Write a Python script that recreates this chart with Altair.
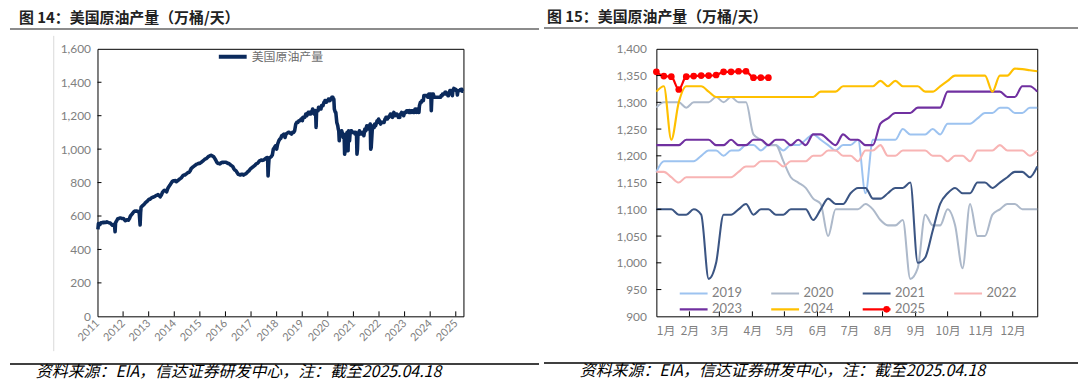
import altair as alt
import pandas as pd

# ---------------- data ----------------
# Left panel (2011-2018) (万桶/天)
early_dates = [
    "2011-01-07", "2011-01-14", "2011-02-04", "2011-02-18", "2011-03-04", "2011-03-18", "2011-04-01", "2011-04-15",
    "2011-05-01", "2011-05-15", "2011-06-01", "2011-06-15", "2011-07-01", "2011-07-15", "2011-08-01", "2011-08-15",
    "2011-09-02", "2011-09-09", "2011-09-16", "2011-09-30", "2011-10-15", "2011-11-01", "2011-11-15", "2011-12-01",
    "2011-12-15",
    "2012-01-06", "2012-01-20", "2012-02-03", "2012-02-17", "2012-03-02", "2012-03-16", "2012-04-01", "2012-04-15",
    "2012-05-01", "2012-05-15", "2012-06-01", "2012-06-15", "2012-07-01", "2012-07-15", "2012-08-03", "2012-08-17",
    "2012-08-31", "2012-09-07", "2012-09-14", "2012-10-01", "2012-10-15", "2012-11-01", "2012-11-15", "2012-12-01",
    "2012-12-15",
    "2013-01-04", "2013-01-18", "2013-02-01", "2013-02-15", "2013-03-01", "2013-03-15", "2013-04-01", "2013-04-15",
    "2013-05-01", "2013-05-15", "2013-06-01", "2013-06-15", "2013-07-01", "2013-07-15", "2013-08-01", "2013-08-15",
    "2013-09-01", "2013-09-15", "2013-10-01", "2013-10-15", "2013-11-01", "2013-11-15", "2013-12-01", "2013-12-15",
    "2014-01-03", "2014-01-17", "2014-02-01", "2014-02-15", "2014-03-01", "2014-03-15", "2014-04-01", "2014-04-15",
    "2014-05-01", "2014-05-15", "2014-06-01", "2014-06-15", "2014-07-01", "2014-07-15", "2014-08-01", "2014-08-15",
    "2014-09-01", "2014-09-15", "2014-10-01", "2014-10-15", "2014-11-01", "2014-11-15", "2014-12-01", "2014-12-15",
    "2015-01-01", "2015-01-15", "2015-02-01", "2015-02-15", "2015-03-01", "2015-03-15", "2015-04-01", "2015-04-15",
    "2015-05-01", "2015-05-15", "2015-06-01", "2015-06-15", "2015-07-01", "2015-07-15", "2015-08-01", "2015-08-15",
    "2015-09-01", "2015-09-15", "2015-10-01", "2015-10-15", "2015-11-01", "2015-11-15", "2015-12-01", "2015-12-15",
    "2016-01-01", "2016-01-15", "2016-02-01", "2016-02-15", "2016-03-01", "2016-03-15", "2016-04-01", "2016-04-15",
    "2016-05-01", "2016-05-15", "2016-06-01", "2016-06-15", "2016-07-01", "2016-07-15", "2016-08-01", "2016-08-15",
    "2016-09-01", "2016-09-15", "2016-10-01", "2016-10-15", "2016-11-01", "2016-11-15", "2016-12-01", "2016-12-15",
    "2017-01-01", "2017-01-15", "2017-02-01", "2017-02-15", "2017-03-01", "2017-03-15", "2017-04-01", "2017-04-15",
    "2017-05-01", "2017-05-15", "2017-06-01", "2017-06-15", "2017-07-01", "2017-07-15", "2017-08-01", "2017-08-18",
    "2017-08-25", "2017-09-01", "2017-09-08", "2017-09-15", "2017-10-01", "2017-10-15", "2017-11-01", "2017-11-15",
    "2017-12-01", "2017-12-15",
    "2018-01-01", "2018-01-15", "2018-02-01", "2018-02-15", "2018-03-01", "2018-03-15", "2018-04-01", "2018-04-15",
    "2018-05-01", "2018-05-15", "2018-06-01", "2018-06-15", "2018-07-01", "2018-07-15", "2018-08-01", "2018-08-15",
    "2018-09-01", "2018-09-15", "2018-10-01", "2018-10-15", "2018-11-01", "2018-11-15", "2018-12-01", "2018-12-15",
]
early_values = [
    520, 555, 548, 560, 560, 562, 560, 563, 562, 565, 562, 560, 558, 552, 545, 548,
    540, 506, 560, 570, 582, 585, 588, 588, 585,
    585, 578, 572, 575, 578, 575, 585, 600, 608, 615, 625, 630, 628, 630, 625, 628,
    546, 620, 652, 660, 665, 672, 680, 685, 690,
    700, 700, 705, 710, 712, 715, 718, 722, 725, 728, 722, 715, 725, 740, 750, 754,
    750, 745, 765, 775, 785, 795, 805, 810,
    810, 812, 805, 810, 815, 820, 825, 830, 840, 845, 845, 850, 855, 860, 862, 870,
    885, 890, 895, 900, 905, 910, 912, 915,
    915, 920, 925, 930, 935, 940, 943, 948, 955, 958, 962, 963, 958, 955, 945, 935,
    920, 915, 915, 912, 918, 922, 920, 922,
    922, 920, 915, 915, 910, 905, 900, 895, 882, 875, 870, 860, 850, 848, 845, 850,
    850, 845, 850, 852, 858, 865, 870, 878,
    885, 890, 895, 900, 905, 912, 915, 920, 930, 932, 935, 933, 935, 940, 945, 950,
    950, 840, 900, 945, 950, 955, 965, 1000, 1010, 1020,
    1000, 1030, 1050, 1060, 1065, 1080, 1085, 1090, 1070, 1090, 1095, 1100, 1100, 1095, 1090, 1100,
    1100, 1110, 1150, 1160, 1160, 1170, 1170, 1180,
]

# Weekly values 2019-2025 (万桶/天)
years = ["2019", "2020", "2021", "2022", "2023", "2024", "2025"]
w2019 = [1170, 1190, 1190, 1190, 1190, 1190, 1200, 1210, 1210, 1200, 1210, 1210, 1220, 1220, 1210, 1220,
         1220, 1210, 1220, 1220, 1230, 1240, 1230, 1220, 1210, 1220, 1220, 1230, 1130, 1230, 1230, 1230,
         1230, 1250, 1240, 1240, 1240, 1250, 1240, 1260, 1260, 1260, 1260, 1270, 1280, 1280, 1290, 1290,
         1280, 1280, 1290, 1290]
w2020 = [1290, 1300, 1300, 1300, 1290, 1300, 1300, 1300, 1310, 1300, 1310, 1300, 1300, 1240, 1230, 1220,
         1220, 1190, 1160, 1150, 1140, 1120, 1110, 1050, 1100, 1100, 1100, 1100, 1110, 1100, 1080, 1070,
         1070, 1080, 970, 990, 1090, 1070, 1070, 1100, 1070, 990, 1110, 1050, 1050, 1090, 1100, 1110,
         1110, 1100, 1100, 1100]
w2021 = [1100, 1100, 1100, 1090, 1090, 1100, 1090, 970, 1000, 1090, 1090, 1100, 1110, 1090, 1100, 1100,
         1090, 1090, 1100, 1100, 1100, 1080, 1100, 1120, 1110, 1110, 1130, 1140, 1140, 1120, 1120, 1130,
         1140, 1140, 1150, 1000, 1010, 1060, 1110, 1130, 1140, 1130, 1130, 1150, 1150, 1140, 1150, 1160,
         1170, 1170, 1160, 1180]
w2022 = [1170, 1170, 1160, 1150, 1160, 1160, 1160, 1160, 1160, 1160, 1160, 1170, 1180, 1180, 1190, 1190,
         1190, 1180, 1190, 1190, 1190, 1200, 1200, 1210, 1210, 1200, 1200, 1190, 1210, 1210, 1220, 1200,
         1200, 1210, 1210, 1210, 1210, 1200, 1200, 1190, 1200, 1200, 1190, 1210, 1210, 1210, 1220, 1210,
         1210, 1210, 1200, 1210]
w2023 = [1220, 1220, 1220, 1220, 1230, 1230, 1230, 1230, 1220, 1220, 1230, 1220, 1220, 1230, 1230, 1220,
         1230, 1230, 1220, 1230, 1220, 1240, 1240, 1230, 1220, 1240, 1230, 1230, 1220, 1220, 1260, 1270,
         1280, 1280, 1280, 1290, 1290, 1290, 1290, 1320, 1320, 1320, 1320, 1320, 1320, 1320, 1320, 1310,
         1310, 1330, 1330, 1320]
w2024 = [1320, 1330, 1230, 1300, 1330, 1330, 1330, 1320, 1310, 1310, 1310, 1310, 1310, 1310, 1310, 1310,
         1310, 1310, 1310, 1310, 1310, 1310, 1320, 1320, 1320, 1330, 1330, 1330, 1330, 1330, 1340, 1330,
         1340, 1330, 1330, 1330, 1320, 1320, 1330, 1340, 1350, 1350, 1350, 1350, 1350, 1320, 1350, 1350,
         1363, 1362, 1360, 1358]
w2025 = [1357, 1349, 1348, 1324, 1348, 1349, 1350, 1350, 1351, 1357, 1357, 1358, 1358, 1346, 1346, 1346]
weekly = [w2019, w2020, w2021, w2022, w2023, w2024, w2025]

year_colors = ["#9dc3f0", "#adb9ca", "#3b5583", "#f8b4b4", "#7030a0", "#ffc000", "#ff0000"]
year_widths = [2, 2.2, 2.5, 2, 3.5, 3.5, 3]

left_y_ticks = [0, 200, 400, 600, 800, 1000, 1200, 1400, 1600]
left_x_ticks = list(range(2011, 2026))
right_y_ticks = [900, 950, 1000, 1050, 1100, 1150, 1200, 1250, 1300, 1350, 1400]
month_days = [0, 31, 59, 90, 120, 151, 181, 212, 243, 273, 304, 334]
month_labels = ["1月", "2月", "3月", "4月", "5月", "6月", "7月", "8月", "9月", "10月", "11月", "12月"]

title_left = "图 14：美国原油产量（万桶/天）"
title_right = "图 15：美国原油产量（万桶/天）"
source_text = "资料来源：EIA，信达证券研发中心，注：截至2025.04.18"
series_name = "美国原油产量"

# ---------------- tables ----------------
left_rows = [(pd.Timestamp(d), v) for d, v in zip(early_dates, early_values)]
for y, vals in zip(years, weekly):
    start = pd.Timestamp(f"{y}-01-03")
    for i, v in enumerate(vals):
        left_rows.append((start + pd.Timedelta(days=7 * i), v))
left_df = pd.DataFrame(left_rows, columns=["date", "v"])
left_df["t"] = left_df["date"].dt.year + (left_df["date"].dt.dayofyear - 1) / 365.25
left_df["s"] = series_name
left_df = left_df.drop(columns="date")

right_rows = []
for y, vals in zip(years, weekly):
    for i, v in enumerate(vals):
        right_rows.append({"year": y, "day": 7 * i, "v": v})
right_df = pd.DataFrame(right_rows)

dummy = pd.DataFrame({"a": [0]})

# ---------------- left panel ----------------
W1, H1 = 368, 269
xl = alt.X("t:Q", scale=alt.Scale(domain=[2011, 2025.3], nice=False, zero=False),
           axis=alt.Axis(values=left_x_ticks, format="d", labelAngle=-45, labelAlign="right",
                         labelBaseline="middle", labelPadding=5, labelFontSize=11,
                         labelOverlap=False, labelBound=False, title=None))
yl = alt.Y("v:Q", scale=alt.Scale(domain=[0, 1600], nice=False),
           axis=alt.Axis(values=left_y_ticks, format=",.0f", labelPadding=7, labelOverlap=False, title=None))

left_line = alt.Chart(left_df).mark_line(strokeWidth=3.6, strokeJoin="round").encode(
    x=xl, y=yl,
    color=alt.Color("s:N", scale=alt.Scale(domain=[series_name], range=["#0b2a5c"]),
                    legend=alt.Legend(orient="none", legendX=120, legendY=1, title=None,
                                      symbolType="stroke", symbolSize=784, symbolStrokeWidth=4,
                                      clipHeight=14, labelFontSize=12, labelColor="#6e6e6e",
                                      labelFont="Noto Sans CJK SC", labelOffset=3)),
)
lyt = alt.Chart(pd.DataFrame({"v": left_y_ticks[1:-1]})).mark_rule(color="#000", strokeWidth=1).encode(
    y=yl, x=alt.value(0), x2=alt.value(4))
lxt = alt.Chart(pd.DataFrame({"t": left_x_ticks[1:]})).mark_rule(color="#000", strokeWidth=1).encode(
    x=xl, y=alt.value(H1), y2=alt.value(H1 - 5))

left_title = alt.Chart(dummy).mark_text(align="left", baseline="top", fontSize=15, fontWeight="bold",
                                        font="Noto Sans CJK SC", color="#222222").encode(
    x=alt.value(-79), y=alt.value(-38), text=alt.value(title_left))
left_hline = alt.Chart(dummy).mark_rule(color="#8c8c8c", strokeWidth=2).encode(
    x=alt.value(-88), x2=alt.value(444), y=alt.value(-20))
left_border = alt.Chart(dummy).mark_rule(color="#d9d9d9", strokeWidth=1).encode(
    x=alt.value(-44), y=alt.value(-13), y2=alt.value(304))
left_fline = alt.Chart(dummy).mark_rule(color="#000000", strokeWidth=1.5).encode(
    x=alt.value(-88), x2=alt.value(444), y=alt.value(317))
left_src = alt.Chart(dummy).mark_text(align="left", baseline="middle", fontSize=16, fontStyle="italic",
                                      font="Noto Sans CJK SC", color="#000000").encode(
    x=alt.value(-62), y=alt.value(325), text=alt.value(source_text))

left = alt.layer(left_line, lyt, lxt, left_title, left_hline, left_border, left_fline, left_src).properties(
    width=W1, height=H1)

# ---------------- right panel ----------------
W2, H2 = 383, 269
days_arr = "[" + ",".join(str(d) for d in month_days) + "]"
labs_arr = "[" + ",".join("'" + m + "'" for m in month_labels) + "]"
xr = alt.X("day:Q", scale=alt.Scale(domain=[0, 357], nice=False, zero=False),
           axis=alt.Axis(values=month_days, labelExpr=f"{labs_arr}[indexof({days_arr}, datum.value)]",
                         labelPadding=9, labelFont="Noto Sans CJK SC", labelFontSize=12,
                         labelOverlap=False, labelBound=False, labelAngle=0, title=None))
yr = alt.Y("v:Q", scale=alt.Scale(domain=[900, 1400], nice=False, zero=False),
           axis=alt.Axis(values=right_y_ticks, format=",.0f", labelPadding=10, labelOverlap=False, title=None))

LEG_X, LEG_Y = 22, 238
right_lines = alt.Chart(right_df).mark_line(interpolate="monotone", strokeJoin="round").encode(
    x=xr, y=yr,
    color=alt.Color("year:N", scale=alt.Scale(domain=years, range=year_colors),
                    legend=alt.Legend(orient="none", legendX=LEG_X, legendY=LEG_Y, title=None, columns=4,
                                      direction="horizontal", padding=0,
                                      symbolType="stroke", symbolSize=784, symbolStrokeWidth=3.5,
                                      clipHeight=16, rowPadding=0, columnPadding=27,
                                      labelFontSize=13, labelColor="#808080", labelFont="Lato",
                                      labelOffset=3)),
    strokeWidth=alt.StrokeWidth("year:N", scale=alt.Scale(domain=years, range=year_widths), legend=None),
    order=alt.Order("day:Q"),
)
# 2025 markers; their shape legend adds the dot onto the 2025 legend line
right_pts = alt.Chart(right_df).transform_filter(alt.datum.year == "2025").transform_calculate(
    mk="'2025 '").mark_point(filled=True, size=45, color="#ff0000", opacity=1).encode(
    x=xr, y=yr,
    shape=alt.Shape("mk:N", scale=alt.Scale(domain=["2025 "], range=["circle"]),
                    legend=alt.Legend(orient="none", legendX=LEG_X + 206, legendY=LEG_Y + 16, title=None,
                                      padding=0, clipHeight=16, symbolSize=45, symbolFillColor="#ff0000",
                                      symbolStrokeColor="#ff0000", symbolStrokeWidth=0,
                                      labelExpr="''", labelFontSize=1, labelOffset=0)),
)
ryt = alt.Chart(pd.DataFrame({"v": right_y_ticks[1:-1]})).mark_rule(color="#000", strokeWidth=1).encode(
    y=yr, x=alt.value(0), x2=alt.value(5))
rxt = alt.Chart(pd.DataFrame({"day": month_days[1:]})).mark_rule(color="#000", strokeWidth=1).encode(
    x=xr, y=alt.value(H2), y2=alt.value(H2 - 5))

right_title = alt.Chart(dummy).mark_text(align="left", baseline="top", fontSize=15, fontWeight="bold",
                                         font="Noto Sans CJK SC", color="#222222").encode(
    x=alt.value(-110), y=alt.value(-39), text=alt.value(title_right))
right_hline = alt.Chart(dummy).mark_rule(color="#8c8c8c", strokeWidth=2).encode(
    x=alt.value(-113), x2=alt.value(424), y=alt.value(-21))
right_fline = alt.Chart(dummy).mark_rule(color="#000000", strokeWidth=1.5).encode(
    x=alt.value(-113), x2=alt.value(424), y=alt.value(316))
right_src = alt.Chart(dummy).mark_text(align="left", baseline="middle", fontSize=16, fontStyle="italic",
                                       font="Noto Sans CJK SC", color="#000000").encode(
    x=alt.value(-77), y=alt.value(324), text=alt.value(source_text))

right = alt.layer(right_lines, right_pts, ryt, rxt, right_title, right_hline, right_fline, right_src).properties(
    width=W2, height=H2)

chart = alt.hconcat(left, right, spacing=1).resolve_scale(
    color="independent", strokeWidth="independent", shape="independent"
).properties(padding=0).configure_view(
    stroke="#000000", strokeWidth=1
).configure_axis(
    grid=False, domain=False, ticks=False, labelColor="#808080", labelFont="Lato", labelFontSize=12
)

chart.save("out.html", embed_options={"renderer": "svg", "actions": False})
